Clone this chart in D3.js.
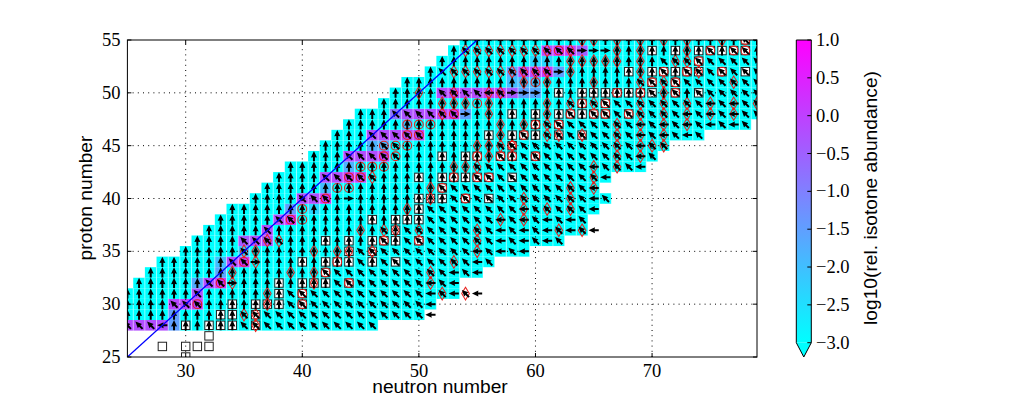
<!DOCTYPE html>
<html><head><meta charset="utf-8">
<script src="https://cdnjs.cloudflare.com/ajax/libs/d3/7.8.5/d3.min.js"></script>
<style>html,body{margin:0;padding:0;background:#fff;overflow:hidden}svg{display:block}
.tick{font-family:"Liberation Serif",serif;font-size:18.5px;fill:#000}
.lab{font-family:"Liberation Sans",sans-serif;font-size:19.2px;fill:#000}</style>
</head><body><svg id="c" width="1016" height="397"></svg>
<script>
// [proton number, first neutron number, last neutron number, arrow runs (U up, N up-left, W left, E right); the last run fills the row]
const rows = [
[28,25,46,"N3 W1 U6 N99"],
[29,25,50,"U10 N99"],
[30,25,51,"U4 N3 U7 N12 W1"],
[31,25,53,"U6 N1 U7 N12 W1 N1 W1"],
[32,26,53,"U6 N2 E1 U8 N8 W1 N1 W1"],
[33,27,55,"U15 N11 W1 N1 W1"],
[34,28,56,"U6 N2 E1 U8 N1 U1 N8 W1 N1"],
[35,30,59,"U5 N1 U9 N10 W1 N1 W1 N1 W1"],
[36,31,62,"U4 N4 U8 N1 U1 N8 W1 N1 W1 N1 W1 N1"],
[37,32,64,"U5 N1 U9 N1 U1 N8 W1 N1 W1 N1 W1 N1 W1 N1"],
[38,33,64,"U5 N2 U11 N6 W1 N1 W1 N1 W1 N1 W1 N1"],
[39,34,65,"U17 N8 W1 N5 W1"],
[40,36,66,"U4 N3 U1 E1 U8 N12 W1 N1"],
[41,37,65,"U15 N13 W1"],
[42,38,66,"U4 N5 U8 N11 W1 N1"],
[43,39,69,"U16 N10 W1 N3 W1"],
[44,41,70,"U3 N5 U8 N1 U1 N10 W1 N1"],
[45,42,71,"U5 N2 U8 N12 W1 N2"],
[46,43,74,"U3 N5 U8 N1 U1 N8 W1 N1 W1 N1 W1 N1"],
[47,44,78,"U17 N8 W1 N1 W1 N1 W1 N1 W1 N1 W1 N1"],
[48,45,79,"U3 N6 E1 U8 N1 U1 N8 W1 N1 W1 N1 W1 N2"],
[49,47,79,"U16 N1 U1 N10 W1 N1 W1 N2"],
[50,48,79,"U4 N4 W1 N1 E3 U9 N1 U1 N1 U1 N99"],
[51,49,79,"U20 N99"],
[52,51,79,"U1 N10 E1 U8 N1 U1 N99"],
[53,52,79,"U19 N99"],
[54,53,79,"U1 N10 E3 U8 N1 U1 N2 U1"],
[55,54,79,"U24 N1 U1"]
];
// arrows standing outside the shaded cells: [neutron, proton, direction]
const looseArrows = [[51,29,"W"],[54,31,"N"],[55,31,"W"],[65,37,"W"]];
// log10(relative isotone abundance) of the non-background cells: [neutron, proton, value]
const abundance = [
[25,28,-0.2],[26,28,-0.2],[27,28,-0.2],[28,28,-0.2],[29,28,-1.5],[29,29,-1.5],
[29,30,-0.1],[30,30,-0.1],[31,30,0],[31,31,-0.3],[31,32,-1.7],[32,32,-0.2],[33,32,0.2],
[33,33,-1.6],[33,34,-2],[34,34,-0.2],[35,34,0.2],[35,35,-2.2],[35,36,-0.4],[36,36,-0.2],[37,36,-0.3],
[37,37,-0.2],[38,38,-0.2],[39,38,0.2],[39,39,-1.5],[40,40,-0.2],[41,40,-0.2],[42,40,0.1],[41,39,-2.4],
[42,42,-0.2],[43,42,-0.2],[44,42,0.1],[45,42,-0.1],[42,41,-2],[44,43,-1.8],
[44,44,-0.2],[45,44,-0.2],[46,44,-0.2],[47,44,0],[46,45,-1.8],[47,45,-1.8],
[46,46,-0.2],[47,46,-0.2],[48,46,-0.2],[49,46,-0.2],[50,46,-0.1],[49,47,-2],
[48,48,-0.8],[49,48,-0.3],[50,48,-0.2],[51,48,-0.2],[52,48,-0.1],[53,48,0.2],[54,48,-1.5],
[52,50,-0.2],[53,50,-0.1],[54,50,-0.2],[55,50,-0.2],[56,50,-0.1],[57,50,-0.1],[58,50,-0.4],[59,50,-1.5],[60,50,-1.6],
[58,51,-2],[59,51,-2],[60,51,-2],[58,52,-1.6],[59,52,-0.2],[60,52,-0.1],[61,52,0.1],[62,52,-1.5],
[61,54,-0.2],[62,54,0.2],[63,54,0],[64,54,-0.5],[60,53,-2.4],[61,53,-2.4]
];
// stable isotopes (black squares): [proton, neutrons]
const squares = [
[25,[30]],[26,[28,30,31,32]],[27,[32]],
[28,[30,32,33,34,36]],[29,[33,34,36]],[30,[34,36,37,38,40]],[31,[38,40]],[32,[38,40,41,42,44]],[33,[42]],
[34,[40,42,43,44,46,48]],[35,[44,46]],[36,[42,44,46,47,48,50]],[37,[48]],[38,[46,48,49,50]],[39,[50]],
[40,[50,51,52,54,56]],[41,[52]],[42,[50,52,53,54,55,56,58]],[44,[52,54,55,57,58,60]],[45,[58]],
[46,[56,58,59,60,62,64]],[47,[60,62]],[48,[58,60,62,63,64,65,66,68]],[49,[64,66]],
[50,[62,64,65,66,67,68,69,70,72,74]],[51,[70,72]],[52,[68,70,71,72,73,74,76,78]],[53,[74]],
[54,[70,72,74,75,76,77,78]],[55,[78]]
];
// red circles: [proton, neutrons]
const circles = [
[30,[31,40]],[31,[40]],[32,[33,44]],[33,[42]],[34,[35,43]],[36,[47,50]],
[38,[39,40]],[39,[40]],[40,[42,54]],[41,[43,44,52]],[42,[44,45,53,55,56]],[43,[45,46,47]],
[44,[47,48,55,57,58,60]],[45,[47,48,49,58]],[46,[49,50,59]],[47,[49,50,51,60,62]],
[48,[53,63,65,66,68]],[49,[55,64,66]],[50,[67,69,72]],[51,[60,70,72]],[52,[71,73,76]],[53,[74]],
[54,[62,75,77,78]],[55,[78]]
];
// red diamonds: [proton, neutrons]
const diamonds = [
[28,[36]],[29,[35,36]],[30,[37]],[31,[37,52,54]],[32,[34,41,51]],[33,[34,39,41,51]],[34,[36,53]],
[35,[35,36,41,43,44,46,55]],[36,[37,38,55]],[37,[45,47,48,50,55,62,64]],[38,[57,59]],
[39,[49,59,61,63]],[40,[51,59,63]],[41,[51,63,65]],[42,[46,65]],[43,[53,54,55,65,67]],[44,[56,67,69]],
[45,[55,56,57,58,67,69,70,71]],[46,[57,61,62,64,67,69,71]],[47,[57,59,61,67,69,71,73]],
[48,[52,56,61,69,71,73,75,77]],[49,[52,53,54,56,61,63,65,69,71,73,75,77,79]],
[50,[50,53,56,57,71]],[51,[59,61,65,69,71,77]],[52,[53,54,55,56,57,58,59,60,61,63,69,74]],
[53,[63,64,65,66,67,69,72,73]],[54,[54,55,56,57,58,59,60,61,63,67,69,73]],[55,[64,65,67,69,71,73,76]]
];
const xTicks = [30,40,50,60,70];
const yTicks = [25,30,35,40,45,50,55];
const barTicks = [-3,-2.5,-2,-1.5,-1,-0.5,0,0.5,1];

const svg = d3.select("#c");
const x = d3.scaleLinear().domain([25,79]).range([127.4,757]);
const y = d3.scaleLinear().domain([25,55]).range([357,40]);
const colour = d3.scaleLinear().domain([-3,1]).range(["#00ffff","#ff00ff"]);
const bar = d3.scaleLinear().domain([-3,1]).range([342.7,40]);
const abMap = new Map(abundance.map(d=>[d[0]+"_"+d[1],d[2]]));

svg.append("defs").append("clipPath").attr("id","ax").append("rect")
  .attr("x",x(25)).attr("y",y(55)).attr("width",x(79)-x(25)).attr("height",y(25)-y(55));

const cells=[], arrows=[];
rows.forEach(([z,a,b,runs])=>{
  let n=a;
  runs.split(" ").forEach(r=>{
    const dir=r[0], c=+r.slice(1);
    for(let i=0;i<c&&n<=b;i++,n++){
      cells.push({n,z,v:abMap.has(n+"_"+z)?abMap.get(n+"_"+z):-3});
      arrows.push({n,z,dir});
    }
  });
  while(n<=b){cells.push({n,z,v:abMap.has(n+"_"+z)?abMap.get(n+"_"+z):-3});arrows.push({n,z,dir:"N"});n++;}
});
looseArrows.forEach(([n,z,dir])=>arrows.push({n,z,dir}));
const flat=l=>l.flatMap(([z,ns])=>ns.map(n=>({n,z})));

const plot=svg.append("g").attr("clip-path","url(#ax)");
plot.append("g").selectAll("rect").data(cells).join("rect")
  .attr("x",d=>x(d.n-.5)).attr("y",d=>y(d.z+.5))
  .attr("width",d=>x(d.n+.5)-x(d.n-.5)).attr("height",d=>y(d.z-.5)-y(d.z+.5))
  .attr("fill",d=>colour(d.v));
// pale seams between columns
plot.append("g").selectAll("line").data(cells).join("line")
  .attr("x1",d=>x(d.n+.5)).attr("x2",d=>x(d.n+.5)).attr("y1",d=>y(d.z+.5)).attr("y2",d=>y(d.z-.5))
  .attr("stroke","#fff").attr("stroke-opacity",0.45).attr("stroke-width",1);

// grid
const grid=svg.append("g").attr("stroke","#000").attr("stroke-width",1).attr("stroke-dasharray","1 4.2");
grid.selectAll(".gx").data(xTicks).join("line").attr("class","gx")
  .attr("x1",d=>x(d)).attr("x2",d=>x(d)).attr("y1",y(25)).attr("y2",y(55));
grid.selectAll(".gy").data(yTicks.slice(1,-1)).join("line").attr("class","gy")
  .attr("y1",d=>y(d)).attr("y2",d=>y(d)).attr("x1",x(25)).attr("x2",x(79));

const sq=8.4;
plot.append("g").selectAll("rect").data(flat(squares)).join("rect")
  .attr("x",d=>x(d.n)-sq/2).attr("y",d=>y(d.z)-sq/2).attr("width",sq).attr("height",sq)
  .attr("fill","#fff").attr("stroke","#222").attr("stroke-width",1);
plot.append("g").selectAll("circle").data(flat(circles)).join("circle")
  .attr("cx",d=>x(d.n)).attr("cy",d=>y(d.z)).attr("r",4.4)
  .attr("fill","none").attr("stroke","#e8201c").attr("stroke-width",1.1);
const dia=d3.line()([[0,-6.3],[3.8,0],[0,6.3],[-3.8,0]])+"Z";
plot.append("g").selectAll("path").data(flat(diamonds)).join("path")
  .attr("transform",d=>`translate(${x(d.n)},${y(d.z)})`).attr("d",dia)
  .attr("fill","none").attr("stroke","#e8201c").attr("stroke-width",1.05);
const ang={U:0,N:-45,W:-90,E:90};
const arrowShape=d3.line()([[0,-5.2],[3,1.2],[1,0.9],[1,5],[-1,5],[-1,0.9],[-3,1.2]])+"Z";
plot.append("g").selectAll("path").data(arrows).join("path")
  .attr("transform",d=>`translate(${x(d.n)},${y(d.z)}) rotate(${ang[d.dir]})`)
  .attr("d",arrowShape).attr("fill","#000");
plot.append("line").attr("x1",x(25)).attr("y1",y(25)).attr("x2",x(55)).attr("y2",y(55))
  .attr("stroke","#0000ff").attr("stroke-width",1.3);

// frame and ticks
const frame=svg.append("g");
frame.append("rect").attr("x",x(25)).attr("y",y(55)).attr("width",x(79)-x(25)).attr("height",y(25)-y(55))
  .attr("fill","none").attr("stroke","#000").attr("stroke-width",1);
xTicks.forEach(t=>{
  frame.append("line").attr("x1",x(t)).attr("x2",x(t)).attr("y1",y(25)).attr("y2",y(25)-4).attr("stroke","#000");
  frame.append("line").attr("x1",x(t)).attr("x2",x(t)).attr("y1",y(55)).attr("y2",y(55)+4).attr("stroke","#000");
  frame.append("text").attr("class","tick").attr("x",x(t)).attr("y",377).attr("text-anchor","middle").text(t);
});
yTicks.forEach(t=>{
  frame.append("line").attr("y1",y(t)).attr("y2",y(t)).attr("x1",x(25)).attr("x2",x(25)+4).attr("stroke","#000");
  frame.append("line").attr("y1",y(t)).attr("y2",y(t)).attr("x1",x(79)).attr("x2",x(79)-4).attr("stroke","#000");
  frame.append("text").attr("class","tick").attr("x",120.5).attr("y",y(t)+6).attr("text-anchor","end").text(t);
});
svg.append("text").attr("class","lab").attr("x",440).attr("y",392.7).attr("text-anchor","middle").text("neutron number");
svg.append("text").attr("class","lab").attr("text-anchor","middle")
  .attr("transform","translate(92,198) rotate(-90)").text("proton number");

// colour bar
const bx0=796.3,bx1=811.3,tip=357;
const grad=svg.select("defs").append("linearGradient").attr("id","g").attr("x1",0).attr("x2",0).attr("y1",1).attr("y2",0);
grad.selectAll("stop").data(barTicks).join("stop")
  .attr("offset",d=>(d+3)/4).attr("stop-color",d=>colour(d));
svg.append("rect").attr("x",bx0).attr("y",bar(1)).attr("width",bx1-bx0).attr("height",bar(-3)-bar(1)).attr("fill","url(#g)");
svg.append("path").attr("d",d3.line()([[bx0,bar(-3)],[(bx0+bx1)/2,tip],[bx1,bar(-3)]])).attr("fill",colour(-3));
svg.append("path").attr("d",d3.line()([[bx0,bar(1)],[bx1,bar(1)],[bx1,bar(-3)],[(bx0+bx1)/2,tip],[bx0,bar(-3)]])+"Z")
  .attr("fill","none").attr("stroke","#000").attr("stroke-width",1);
barTicks.forEach(t=>{
  svg.append("line").attr("x1",bx1-4).attr("x2",bx1).attr("y1",bar(t)).attr("y2",bar(t)).attr("stroke","#000");
  svg.append("text").attr("class","tick").attr("x",816).attr("y",bar(t)+6).text((t<0?"\u2212":"")+Math.abs(t).toFixed(1));
});
svg.append("text").attr("class","lab").attr("text-anchor","middle")
  .attr("transform","translate(877,198) rotate(-90)").text("log10(rel. isotone abundance)");
</script></body></html>
